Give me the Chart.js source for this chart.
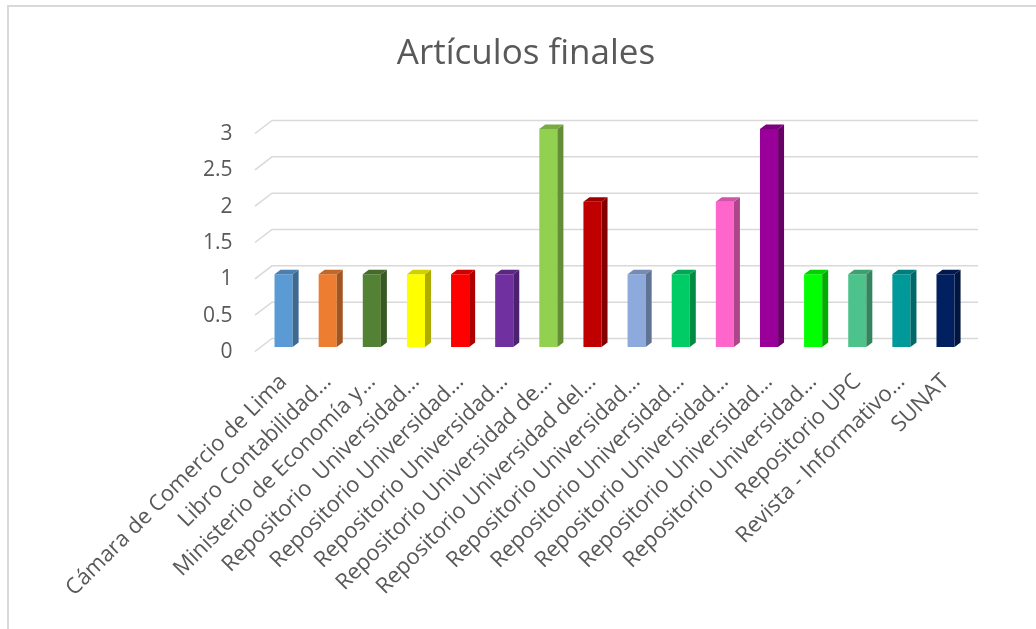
<!DOCTYPE html>
<html>
<head>
<meta charset="utf-8">
<script src="https://cdn.jsdelivr.net/npm/chart.js@4.4.1/dist/chart.umd.min.js"></script>
<style>
  html, body { margin: 0; padding: 0; background: #fff; }
  #wrap { position: relative; width: 1036px; height: 629px; overflow: hidden; }
  #frame { position: absolute; left: 7px; top: 5px; width: 1100px; height: 700px;
           border-top: 2px solid #d9d9d9; border-left: 2px solid #d9d9d9; }
  canvas { position: absolute; left: 0; top: 0; }
</style>
</head>
<body>
<div id="wrap">
  <div id="frame"></div>
  <canvas id="chartBars" width="1036" height="629"></canvas>
</div>
<script>
// data
const categories = [
  'Cámara de Comercio de Lima',
  'Libro Contabilidad…',
  'Ministerio de Economía y…',
  'Repositorio  Universidad…',
  'Repositorio Universidad…',
  'Repositorio Universidad…',
  'Repositorio Universidad de…',
  'Repositorio Universidad del…',
  'Repositorio Universidad…',
  'Repositorio Universidad…',
  'Repositorio Universidad…',
  'Repositorio Universidad…',
  'Repositorio Universidad…',
  'Repositorio UPC',
  'Revista - Informativo…',
  'SUNAT'
];
const articulos = [1, 1, 1, 1, 1, 1, 3, 2, 1, 1, 2, 3, 1, 1, 1, 1];
const yTicks = [0, 0.5, 1, 1.5, 2, 2.5, 3];

const barColors = ['#5B9BD5', '#ED7D31', '#548235', '#FFFF00', '#FF0000', '#7030A0',
  '#92D050', '#C00000', '#8EA9DB', '#00CC66', '#FF66CC', '#990099',
  '#00FF00', '#4CC38A', '#009999', '#002060'];

const DX = 6, DY = 4.5;         // depth of the bars
const WX = 17, WY = 13;         // depth of the back wall

function shade(hex, f) {
  const n = parseInt(hex.slice(1), 16);
  const r = Math.round(((n >> 16) & 255) * f);
  const g = Math.round(((n >> 8) & 255) * f);
  const b = Math.round((n & 255) * f);
  return 'rgb(' + r + ',' + g + ',' + b + ')';
}

// gridlines drawn as in a 3d chart: short slanted piece on the side wall, then the back wall
const wallGrid = {
  id: 'wallGrid',
  beforeDatasetsDraw(chart) {
    const ctx = chart.ctx, y = chart.scales.y, a = chart.chartArea;
    ctx.save();
    ctx.strokeStyle = '#d9d9d9';
    ctx.lineWidth = 1.5;
    yTicks.forEach(function (v) {
      const py = y.getPixelForValue(v);
      ctx.beginPath();
      ctx.moveTo(a.left - 6.5, py + 4.5);
      ctx.lineTo(a.left - 6.5 + WX, py + 4.5 - WY);
      ctx.lineTo(a.right + 10.5, py + 4.5 - WY);
      ctx.stroke();
    });
    ctx.restore();
  }
};

// side and top faces of the columns
const bars3d = {
  id: 'bars3d',
  afterDatasetsDraw(chart) {
    const ctx = chart.ctx;
    const meta = chart.getDatasetMeta(0);
    ctx.save();
    meta.data.forEach(function (bar, i) {
      const half = bar.width / 2;
      const l = bar.x - half, r = bar.x + half, t = bar.y, b = bar.base;
      ctx.fillStyle = shade(barColors[i], 0.68);
      ctx.beginPath();
      ctx.moveTo(r, t);
      ctx.lineTo(r + DX, t - DY);
      ctx.lineTo(r + DX, b - DY);
      ctx.lineTo(r, b);
      ctx.closePath();
      ctx.fill();
      ctx.fillStyle = shade(barColors[i], 0.82);
      ctx.beginPath();
      ctx.moveTo(l, t);
      ctx.lineTo(l + DX, t - DY);
      ctx.lineTo(r + DX, t - DY);
      ctx.lineTo(r, t);
      ctx.closePath();
      ctx.fill();
    });
    ctx.restore();
  }
};

const barChart = function barChart() {
  var bars = document.getElementById('chartBars').getContext('2d');
  var myChart = new Chart(bars, {
    type: 'bar',
    data: {
      labels: categories,
      datasets: [{
        label: 'Artículos',
        data: articulos,
        backgroundColor: barColors,
        borderWidth: 0,
        categoryPercentage: 1,
        barPercentage: 0.41
      }]
    },
    options: {
      responsive: false,
      animation: false,
      layout: { padding: { left: 16, right: 0, top: 0, bottom: 0 } },
      plugins: {
        legend: { display: false },
        tooltip: { enabled: false },
        title: {
          display: true,
          text: 'Artículos finales',
          color: '#595959',
          font: { family: 'Open Sans', size: 35, weight: 'normal' },
          padding: { top: 33, bottom: 54 }
        }
      },
      scales: {
        x: {
          grid: { display: false, drawTicks: false },
          border: { display: false },
          afterFit: function (s) { s.height = 282; },
          ticks: {
            autoSkip: false,
            minRotation: 45,
            maxRotation: 45,
            padding: 22,
            color: '#595959',
            font: { family: 'Open Sans', size: 22 }
          }
        },
        y: {
          min: 0,
          max: 3,
          grid: { display: false, drawTicks: false },
          border: { display: false },
          afterFit: function (s) { s.width = 245.5; },
          afterBuildTicks: function (s) { s.ticks = yTicks.map(function (v) { return { value: v }; }); },
          ticks: {
            padding: 29,
            labelOffset: 5,
            color: '#595959',
            font: { family: 'Open Sans', size: 21 },
            callback: function (v) { return String(v); }
          }
        },
        // empty axis that only keeps room on the right of the plot
        yRight: {
          type: 'linear',
          position: 'right',
          min: 0,
          max: 3,
          grid: { display: false, drawTicks: false },
          border: { display: false },
          ticks: { display: false },
          afterFit: function (s) { s.width = 68.4; }
        }
      }
    },
    plugins: [wallGrid, bars3d]
  });
  return myChart;
};

chart = barChart();
</script>
</body>
</html>
